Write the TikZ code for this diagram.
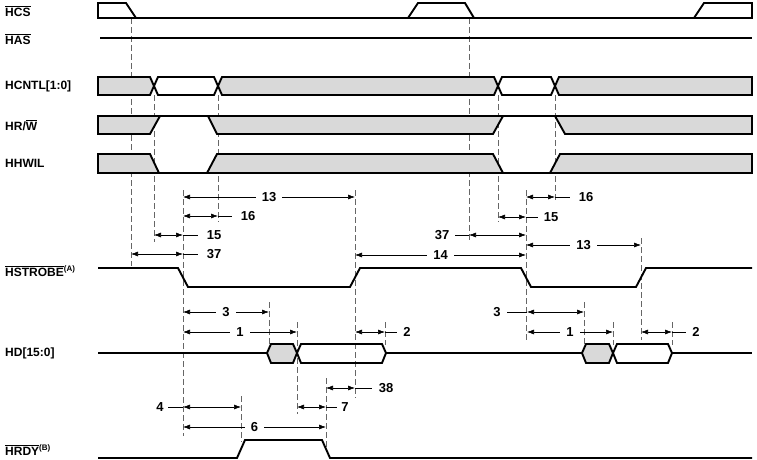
\documentclass[tikz,border=0pt]{standalone}
\usepackage{fontspec}
\setmainfont{Liberation Sans}
\usetikzlibrary{arrows.meta}
\newcommand{\ovl}[1]{$\overline{\mbox{#1}}$}
\tikzset{
  sig/.style={line width=1.9pt,line join=miter},
  bus/.style={sig,fill=gray!30},
  guide/.style={dash pattern=on 6pt off 3pt,line width=0.6pt,gray!80!black},
  dimln/.style={line width=0.6pt,{Latex[length=7pt,width=5pt]}-{Latex[length=7pt,width=5pt]}},
  lead/.style={line width=0.6pt},
  lbl/.style={font=\fontsize{13}{15}\selectfont\bfseries,inner sep=1pt},
  signame/.style={font=\fontsize{12}{14}\selectfont\bfseries,anchor=west,inner sep=0pt}
}
% dimension with label in the middle
\newcommand{\dimM}[5]{\draw[dimln] (#1,#3) -- (#2,#3);
  \node[lbl,fill=white,inner xsep=6pt] (#5) at ({(#1+#2)/2},#3) {#4};}
% dimension with label beside it
\newcommand{\dimS}[6]{\draw[dimln] (#1,#3) -- (#2,#3);
  \node[lbl] (#6) at (#5,#3) {#4};}
\begin{document}
\begin{tikzpicture}[x=1pt,y=-1pt]
\useasboundingbox (0,0) rectangle (757,460);
% signal names
\node[signame] (nHCS) at (5,11) {\ovl{HCS}};
\node[signame] (nHAS) at (5,39) {\ovl{HAS}};
\node[signame] (nHCNTL) at (5,86) {HCNTL[1:0]};
\node[signame] (nHRW) at (5,125) {HR/\ovl{W}};
\node[signame] (nHHWIL) at (5,163) {HHWIL};
\node[signame] (nHSTR) at (5,271) {\ovl{HSTROBE}\textsuperscript{(A)}};
\node[signame] (nHD) at (5,353) {HD[15:0]};
\node[signame] (nHRDY) at (5,450) {\ovl{HRDY}\textsuperscript{(B)}};

% guide lines
\draw[guide] (131,18) -- (131,266);
\draw[guide] (154,95) -- (154,242);
\draw[guide] (183,190) -- (183,436);
\draw[guide] (218,95) -- (218,222);
\draw[guide] (355,190) -- (355,398);
\draw[guide] (469,18) -- (469,242);
\draw[guide] (498,95) -- (498,222);
\draw[guide] (526,190) -- (526,340);
\draw[guide] (555,95) -- (555,202);
\draw[guide] (641,238) -- (641,340);
\draw[guide] (269,302) -- (269,345);
\draw[guide] (297,322) -- (297,414);
\draw[guide] (385,322) -- (385,345);
\draw[guide] (241,396) -- (241,442);
\draw[guide] (326,378) -- (326,452);
\draw[guide] (584,302) -- (584,345);
\draw[guide] (613,322) -- (613,345);
\draw[guide] (672,322) -- (672,345);

% HCS
\draw[sig] (98,18) -- (98,3) -- (126,3) -- (136,18) -- (408,18) -- (418,3) -- (465,3) -- (474,18)
  -- (694,18) -- (704,3) -- (752,3) -- (752,18) -- cycle;
% HAS
\draw[sig] (100,38) -- (752,38);
% HCNTL
\draw[bus] (98,77) -- (150,77) -- (154,86) -- (150,95) -- (98,95) -- cycle;
\draw[sig] (158,77) -- (154,86) -- (158,95) -- (214,95) -- (218,86) -- (214,77) -- cycle;
\draw[bus] (222,77) -- (218,86) -- (222,95) -- (494,95) -- (498,86) -- (494,77) -- cycle;
\draw[sig] (502,77) -- (498,86) -- (502,95) -- (551,95) -- (555,86) -- (551,77) -- cycle;
\draw[bus] (559,77) -- (555,86) -- (559,95) -- (752,95) -- (752,77) -- cycle;
% HR/W
\draw[bus] (98,116) -- (160,116) -- (150,134) -- (98,134) -- cycle;
\draw[sig] (160,116) -- (208,116);
\draw[bus] (208,116) -- (503,116) -- (493,134) -- (217,134) -- cycle;
\draw[sig] (503,116) -- (555,116);
\draw[bus] (555,116) -- (565,134) -- (752,134) -- (752,116) -- cycle;
% HHWIL
\draw[bus] (98,154) -- (150,154) -- (159,173) -- (98,173) -- cycle;
\draw[sig] (159,173) -- (207,173);
\draw[bus] (207,173) -- (217,154) -- (493,154) -- (503,173) -- cycle;
\draw[sig] (503,173) -- (550,173);
\draw[bus] (550,173) -- (560,154) -- (752,154) -- (752,173) -- cycle;
% HSTROBE
\draw[sig] (98,268) -- (178,268) -- (188,287) -- (350,287) -- (360,268) -- (521,268) -- (531,287)
  -- (636,287) -- (646,268) -- (752,268);
% HD
\draw[sig] (98,353) -- (267,353);
\draw[bus] (267,353) -- (271,344) -- (293,344) -- (297,353) -- (293,363) -- (271,363) -- cycle;
\draw[sig] (297,353) -- (301,344) -- (382,344) -- (386,353) -- (382,363) -- (301,363) -- cycle;
\draw[sig] (386,353) -- (582,353);
\draw[bus] (582,353) -- (586,344) -- (609,344) -- (613,353) -- (609,363) -- (586,363) -- cycle;
\draw[sig] (613,353) -- (617,344) -- (668,344) -- (672,353) -- (668,363) -- (617,363) -- cycle;
\draw[sig] (672,353) -- (752,353);
% HRDY
\draw[sig] (98,458) -- (237,458) -- (245,440) -- (322,440) -- (330,458) -- (752,458);

% timing parameters
\dimM{183}{355}{197}{13}{t13a}
\dimS{183}{218}{216}{16}{248}{t16a} \draw[lead] (218,216) -- (232,216);
\dimS{154}{183}{235}{15}{214}{t15a} \draw[lead] (183,235) -- (198,235);
\dimS{131}{183}{254}{37}{214}{t37a} \draw[lead] (183,254) -- (198,254);
\dimM{355}{526}{255}{14}{t14}
\dimS{526}{555}{197}{16}{586}{t16b} \draw[lead] (555,197) -- (570,197);
\dimS{498}{526}{217}{15}{551}{t15b} \draw[lead] (526,217) -- (538,217);
\dimS{469}{526}{235}{37}{442}{t37b} \draw[lead] (455,235) -- (469,235);
\dimM{526}{641}{245}{13}{t13b}
\dimM{183}{269}{312}{3}{t3a}
\dimM{183}{297}{332}{1}{t1a}
\dimS{355}{385}{332}{2}{407}{t2a} \draw[lead] (385,332) -- (397,332);
\dimS{527}{584}{312}{3}{497}{t3b} \draw[lead] (507,312) -- (527,312);
\dimM{527}{613}{332}{1}{t1b}
\dimS{641}{672}{332}{2}{696}{t2b} \draw[lead] (672,332) -- (686,332);
\dimS{326}{355}{388}{38}{386}{t38} \draw[lead] (355,388) -- (372,388);
\dimS{297}{326}{407}{7}{345}{t7} \draw[lead] (326,407) -- (337,407);
\dimS{183}{241}{407}{4}{160}{t4} \draw[lead] (168,407) -- (183,407);
\dimM{183}{326}{427}{6}{t6}
\end{tikzpicture}
\end{document}
